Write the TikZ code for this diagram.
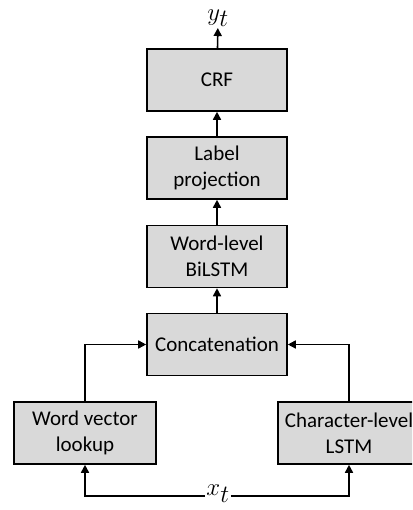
\documentclass[tikz,border=0pt]{standalone}
\usepackage{fontspec}
\setmainfont{Carlito}
\usepackage{tikz}
\usetikzlibrary{arrows.meta}
\definecolor{boxgray}{RGB}{217,217,217}

\begin{document}
\begin{tikzpicture}[x=1pt, y=1pt,
    layer/.style={draw, line width=1.6pt, fill=boxgray, minimum width=140pt, minimum height=62pt,
        inner sep=1pt, align=center, font=\fontsize{21}{26}\selectfont},
    flow/.style={line width=1.6pt, -{Triangle[length=8pt, width=8pt]}}]
    \clip (0, 0) rectangle (412, 510);

    \node[layer] at (217, 430) (crf) {CRF};
    \node[layer] at (217, 342) (proj) {Label\\projection};
    \node[layer] at (217, 253.5) (bilstm) {Word-level\\BiLSTM};
    \node[layer] at (217, 165.5) (concat) {Concatenation};
    \node[layer, minimum width=142pt] at (85, 77) (wvl) {Word vector\\lookup};
    \node[layer, minimum width=142pt] at (349, 77) (clstm) {Character-level\\LSTM};
    \node[font=\fontsize{33}{33}\selectfont, inner sep=1pt] at (218, 16) (xt) {$x_t$};
    \node[font=\fontsize{33}{33}\selectfont, inner sep=1pt, anchor=south] at (218, 482) (yt) {$y_t$};

    \draw[flow] (crf) -- (yt);
    \draw[flow] (proj) -- (crf);
    \draw[flow] (bilstm) -- (proj);
    \draw[flow] (concat) -- (bilstm);
    \draw[flow] (wvl.north) |- (concat.west);
    \draw[flow] (clstm.north) |- (concat.east);
    \draw[flow] (xt.base west) -| (wvl.south);
    \draw[flow] (xt.base east) -| (clstm.south);
\end{tikzpicture}
\end{document}
